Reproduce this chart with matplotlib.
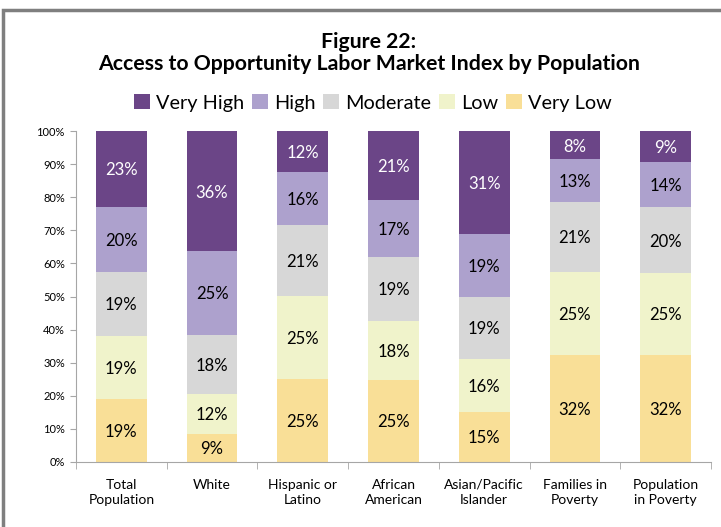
import numpy as np
import matplotlib.pyplot as plt
from matplotlib.patches import Rectangle, Patch

plt.rcParams['font.family'] = ['Lato', 'DejaVu Sans']

categories = ['Total\nPopulation', 'White', 'Hispanic or\nLatino', 'African\nAmerican',
              'Asian/Pacific\nIslander', 'Families in\nPoverty', 'Population\nin Poverty']

very_low = [19.0, 8.6, 25.1, 24.9, 15.0, 32.4, 32.4]
low = [19.0, 11.8, 25.1, 17.7, 16.1, 25.1, 24.6]
moderate = [19.4, 18.1, 21.3, 19.3, 18.8, 20.9, 19.9]
high = [19.6, 25.1, 16.0, 17.3, 18.9, 13.1, 13.7]
very_high = [23.0, 36.4, 12.4, 20.8, 31.2, 8.4, 9.4]

series = [('Very Low', very_low, '#F9DF97', 'black'),
          ('Low', low, '#F0F3CB', 'black'),
          ('Moderate', moderate, '#D7D7D7', 'black'),
          ('High', high, '#ADA1CD', 'black'),
          ('Very High', very_high, '#6B4587', 'white')]

fig = plt.figure(figsize=(7.21, 5.27), dpi=100)
ax = fig.add_axes([76 / 721, 1 - 462 / 527, 635 / 721, 331 / 527])

x = np.arange(len(categories))
bottom = np.zeros(len(categories))
for name, vals, color, tcolor in series:
    vals = np.array(vals)
    ax.bar(x, vals, 0.56, bottom=bottom, color=color, linewidth=0)
    for xi, b, v in zip(x, bottom, vals):
        ax.text(xi, b + v / 2 - 0.4, '%d%%' % round(v), ha='center', va='center',
                fontsize=12, color=tcolor)
    bottom += vals

ax.set_xlim(-0.5, len(categories) - 0.5)
ax.set_ylim(0, 100)
ax.set_yticks(np.arange(0, 101, 10))
ax.set_yticklabels(['%d%%' % v for v in range(0, 101, 10)], fontsize=8)
ax.set_xticks(x)
ax.set_xticklabels(categories, fontsize=10, linespacing=1.3)
ax.set_xticks(np.arange(-0.5, len(categories)), minor=True)
ax.tick_params(axis='x', which='major', length=0, pad=12)
ax.tick_params(axis='x', which='minor', length=5, color='#A6A6A6', direction='out')
ax.tick_params(axis='y', length=4, color='#A6A6A6', direction='out', pad=4)
for s in ['top', 'right']:
    ax.spines[s].set_visible(False)
for s in ['left', 'bottom']:
    ax.spines[s].set_color('#A6A6A6')

# legend order as in the picture
handles = [Patch(facecolor=c, label=n) for n, _, c, _ in reversed(series)]
fig.legend(handles=handles, loc='center', bbox_to_anchor=(373 / 721, 1 - 103 / 527),
           ncol=5, frameon=False, fontsize=14.3, handlelength=0.8, handleheight=0.8,
           handletextpad=0.3, columnspacing=0.4)

fig.text(369 / 721, 1 - 42 / 527, 'Figure 22:',
         ha='center', va='center', fontsize=15.3, fontweight='bold')
fig.text(369 / 721, 1 - 64 / 527, 'Access to Opportunity Labor Market Index by Population',
         ha='center', va='center', fontsize=15.3, fontweight='bold')

fig.patches.append(Rectangle((3.5 / 721, -0.1), 1.2, 1 - 9.5 / 527 + 0.1, transform=fig.transFigure,
                             fill=False, edgecolor='#7F7F7F', linewidth=2.5))

plt.savefig('out.png', dpi=100)
